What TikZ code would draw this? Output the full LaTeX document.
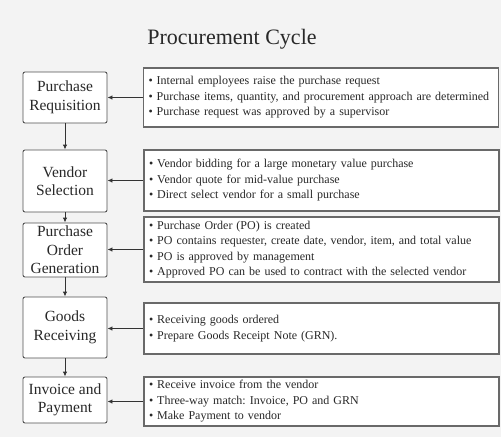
\documentclass[tikz,border=0pt]{standalone}
\usepackage{fontspec}
\setmainfont{Liberation Serif}
\usetikzlibrary{arrows.meta}
\definecolor{bg}{RGB}{243,243,243}
\definecolor{lbord}{RGB}{80,80,80}
\definecolor{rbord}{RGB}{105,105,105}
\definecolor{txt}{RGB}{40,40,40}
\begin{document}
\frenchspacing
\hyphenpenalty=10000
\begin{tikzpicture}[x=1pt,y=-1pt,
  stage/.style={draw=lbord, line width=0.9pt, rounded corners=2pt, fill=white, align=center,
    text=txt, font=\fontsize{15.5}{18.5}\selectfont, inner sep=0pt, minimum width=84pt},
  info/.style={draw=rbord, line width=1.1pt, fill=white, align=left, text=txt,
    font=\fontsize{12}{15.5}\selectfont, inner xsep=5pt, inner ysep=0pt, text width=345pt},
  arr/.style={-{Latex[length=5pt,width=4.5pt]}, line width=0.9pt, draw=black!80}]
\fill[bg] (0,0) rectangle (501,437);
\useasboundingbox (0,0) rectangle (501,437);
\node[font=\fontsize{22}{26}\selectfont, text=txt] (title) at (232,39) {Procurement Cycle};

\node[stage, minimum height=51pt] (s1) at (65,97.5) {Purchase\\Requisition};
\node[stage, minimum height=62pt] (s2) at (65,181) {Vendor\\Selection};
\node[stage, minimum height=54pt] (s3) at (65,250) {Purchase\\Order\\Generation};
\node[stage, minimum height=61pt] (s4) at (65,327.5) {Goods\\Receiving};
\node[stage, minimum height=46pt] (s5) at (65,400) {Invoice and\\Payment};

\node[info, minimum height=59pt] (i1) at (321,97.5) {• Internal employees raise the purchase request\\• Purchase items, quantity, and procurement approach are determined\\• Purchase request was approved by a supervisor};
\node[info, minimum height=61pt] (i2) at (321.5,180.5) {• Vendor bidding for a large monetary value purchase\\• Vendor quote for mid-value purchase\\• Direct select vendor for a small purchase};
\node[info, minimum height=65pt] (i3) at (321.5,249.5) {• Purchase Order (PO) is created\\• PO contains requester, create date, vendor, item, and total value\\• PO is approved by management\\• Approved PO can be used to contract with the selected vendor};
\node[info, minimum height=51pt] (i4) at (321.5,328.5) {• Receiving goods ordered\\• Prepare Goods Receipt Note (GRN).};
\node[info, minimum height=49pt] (i5) at (321.5,401.5) {• Receive invoice from the vendor\\• Three-way match: Invoice, PO and GRN\\• Make Payment to vendor};

\foreach \a/\b in {s1/s2,s2/s3,s3/s4,s4/s5} \draw[arr] (\a.south) -- (\b.north);
\foreach \i/\s in {i1/s1,i2/s2,i3/s3,i4/s4,i5/s5} \draw[arr] (\i.west) -- (\i.west -| \s.east);
\end{tikzpicture}
\end{document}
